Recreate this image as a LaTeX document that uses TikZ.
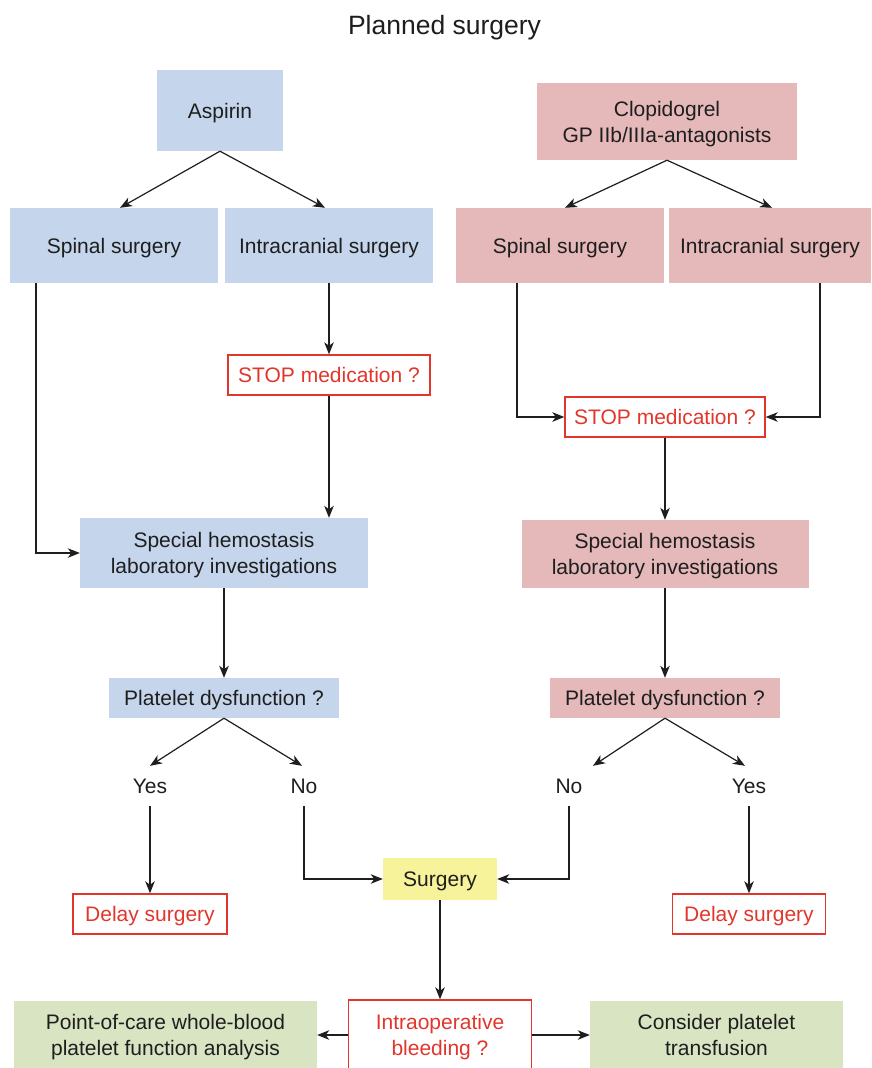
\documentclass[tikz,border=0pt]{standalone}
\usepackage{fontspec}
\setmainfont{Liberation Sans}
\usetikzlibrary{arrows.meta}
\definecolor{bluebox}{HTML}{C5D6EC}
\definecolor{redbox}{HTML}{E5B8B9}
\definecolor{yellowbox}{HTML}{F7F39A}
\definecolor{greenbox}{HTML}{D9E4C2}
\definecolor{alert}{HTML}{E2362C}
\definecolor{ink}{HTML}{1E1E1E}
\begin{document}
\begin{tikzpicture}[x=1pt,y=-1pt,
  every node/.style={font=\fontsize{21}{26}\selectfont, text=ink, align=center, inner sep=0pt, text depth=0pt},
  wh/.style 2 args={minimum width=#1, minimum height=#2},
  bluefill/.style={fill=bluebox},
  redfill/.style={fill=redbox},
  stopbox/.style={draw=alert, line width=1.4pt, fill=white, text=alert},
  answer/.style={minimum height=40},
  arr/.style={draw=ink, line width=1.2pt, -{Stealth[length=12pt,width=9.5pt,inset=3.5pt]}}
]
\clip (0,0) rectangle (871,1068);
\fill[white] (0,0) rectangle (871,1068);

\node (title) at (444.5,24.5) {\fontsize{26.5}{30}\selectfont Planned surgery};

% Aspirin branch
\node[bluefill, wh={126}{81}] (asp) at (220,110.5) {Aspirin};
\node[bluefill, wh={208}{75}] (lsp) at (114,245.5) {Spinal surgery};
\node[bluefill, wh={208}{75}] (lic) at (329,245.5) {Intracranial surgery};
\node[stopbox, wh={202}{40}] (lstop) at (329,375) {STOP medication ?};
\node[bluefill, wh={288}{70}] (lspec) at (224,553) {Special hemostasis\\laboratory investigations};
\node[bluefill, wh={230}{40}] (lpl) at (224,698) {Platelet dysfunction ?};
\node[answer] (lyes) at (150,786) {Yes};
\node[answer] (lno) at (304,786) {No};
\node[stopbox, wh={154}{40}] (ldel) at (150,914) {Delay surgery};

% Clopidogrel branch
\node[redfill, wh={260}{77}] (clo) at (667,121.5) {Clopidogrel\\GP IIb/IIIa-antagonists};
\node[redfill, wh={208}{75}] (rsp) at (560,245.5) {Spinal surgery};
\node[redfill, wh={202}{75}] (ric) at (770,245.5) {Intracranial surgery};
\node[stopbox, wh={200}{40}] (rstop) at (665,417) {STOP medication ?};
\node[redfill, wh={287}{68}] (rspec) at (665,554) {Special hemostasis\\laboratory investigations};
\node[redfill, wh={230}{40}] (rpl) at (665,698) {Platelet dysfunction ?};
\node[answer] (rno) at (569,786) {No};
\node[answer] (ryes) at (749,786) {Yes};
\node[stopbox, wh={153}{40}] (rdel) at (749,914) {Delay surgery};

% Common part
\node[fill=yellowbox, wh={114}{42}] (surg) at (440,879) {Surgery};
\node[stopbox, wh={183}{70}] (bleed) at (440,1035) {Intraoperative\\bleeding ?};
\node[fill=greenbox, wh={303}{68}] (poc) at (165.5,1035) {Point-of-care whole-blood\\platelet function analysis};
\node[fill=greenbox, wh={253}{68}] (plt) at (716.5,1035) {Consider platelet\\transfusion};

% Connectors, aspirin side
\draw[arr] (asp.south) -- ([xshift=6pt]lsp.north);
\draw[arr] (asp.south) -- ([xshift=-4pt]lic.north);
\draw[arr] ([xshift=-78pt]lsp.south) |- (lspec.west);
\draw[arr] (lic.south) -- (lic.south |- lstop.north);
\draw[arr] (lstop.south) -- (lstop.south |- lspec.north);
\draw[arr] (lspec.south) -- (lpl.north);
\draw[arr] (lpl.south) -- (lyes.north);
\draw[arr] (lpl.south) -- ([xshift=-2pt]lno.north);
\draw[arr] (lyes.south) -- (ldel.north);
\draw[arr] (lno.south) |- (surg.west);

% Connectors, clopidogrel side
\draw[arr] (clo.south) -- ([xshift=5pt]rsp.north);
\draw[arr] (clo.south) -- ([xshift=2pt]ric.north);
\draw[arr] ([xshift=-43pt]rsp.south) |- (rstop.west);
\draw[arr] ([xshift=50pt]ric.south) |- (rstop.east);
\draw[arr] (rstop.south) -- (rspec.north);
\draw[arr] (rspec.south) -- (rpl.north);
\draw[arr] (rpl.south) -- ([xshift=24pt]rno.north);
\draw[arr] (rpl.south) -- ([xshift=-4pt]ryes.north);
\draw[arr] (ryes.south) -- (rdel.north);
\draw[arr] (rno.south) |- (surg.east);

% Connectors, intraoperative
\draw[arr] (surg.south) -- (bleed.north);
\draw[arr] (bleed.west) -- (poc.east);
\draw[arr] (bleed.east) -- (plt.west);
\end{tikzpicture}
\end{document}
